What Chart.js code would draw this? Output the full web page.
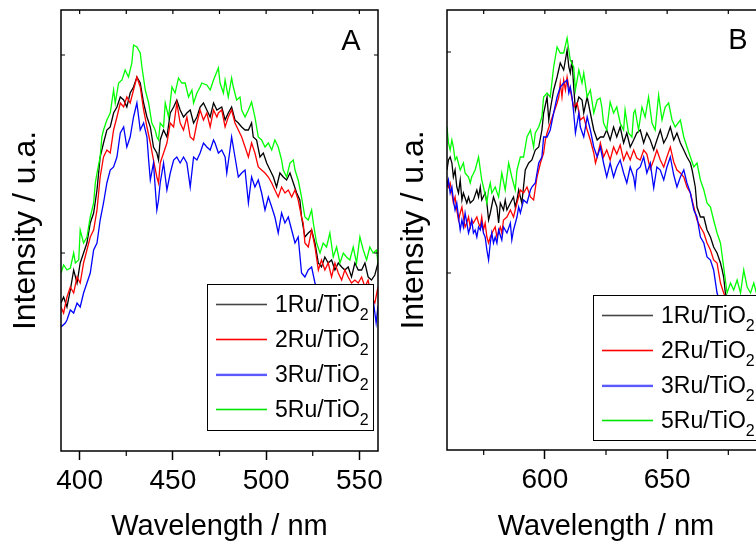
<!DOCTYPE html>
<html><head><meta charset="utf-8">
<script src="https://cdn.jsdelivr.net/npm/chart.js@4/dist/chart.umd.min.js"></script>
<style>
html,body{margin:0;padding:0;background:#fff;overflow:hidden;width:756px;height:544px;position:relative}
#wa{position:absolute;left:0;top:0;width:395px;height:544px}
#wb{position:absolute;left:390px;top:0;width:400px;height:544px}
canvas{display:block}
</style></head><body>
<div id="wa"><canvas id="ca" width="395" height="544"></canvas></div>
<div id="wb"><canvas id="cb" width="400" height="544"></canvas></div>
<script>
// ---------- DATA ----------
const seriesLabels = ['1Ru/TiO2','2Ru/TiO2','3Ru/TiO2','5Ru/TiO2'];
const xTicksA = [400,450,500,550];
const xMinorA = [425,475,525];
const xTicksB = [600,650];
const xMinorB = [575,625,675];
const yTicksA = [198,396];
const yTicksB = [177,398];

// Panel A (390-560 nm)
const wlA1 = [390,391.4,393.2,395,396.8,398.6,400.3,402.1,403.9,405.7,407.5,409.3,411,412.8,414.6,416.4,418.2,420,421.8,423.6,425.3,427.1,428.9,430.7,432.5,434.3,436.1,437.9,439.6,441.4,442.3,443.2,445,446.8,448.6,450.4,452.1,453.9,455.7,457.5,459.3,461.1,462.9,464.6,466.4,468.2,470,471.8,473.6,
476.2,478,479.7,481.5,483.3,485.1,486.9,488.7,490.5,492.2,493.1,494.9,496.7,498.5,500.3,502.1,503.9,505.6,507.4,509.2,511,512.8,514.6,516.4,518.1,519,520.8,522.6,524.4,526.2,528,529.7,531.5,533.3,535.1,536.9,538.7,540.5,542.2,544,545.8,547.6,549.4,551.2,553,554.7,556.5,558.3,560];
const intA1 = [148,154,144,161,181,168,188,198,208,228,238,261,294,308,321,324,338,344,354,351,344,358,364,374,368,348,334,324,304,298,291,311,321,314,338,344,351,341,334,338,341,328,334,344,348,341,334,348,341,
344,331,338,344,331,328,324,321,321,328,314,311,294,298,288,281,274,264,278,274,271,278,268,258,251,234,214,218,221,208,188,184,194,188,191,181,188,184,181,184,174,188,181,181,188,174,171,176,188];

const wlA2 = [390,391.4,393.2,395,396.8,398.6,400.3,402.1,403.9,405.7,407.5,409.3,411,411.9,412.8,414.6,416.4,418.2,420,421.8,423.6,425.3,427.1,428.9,430.7,432.5,434.3,436.1,437.9,439.6,441.4,442.3,443.2,445,446.8,448.6,450.4,452.1,453.9,455.7,457.5,459.3,461.1,462.9,464.6,466.4,468.2,470,471.8,473.6,
474.4,476.2,478,479.7,481.5,483.3,485.1,486.9,488.7,490.5,492.2,494,495.8,497.6,499.4,501.2,503,504.7,506.5,508.3,510.1,511.9,513.7,515.5,517.2,519,519.9,520.8,522.6,524.4,526.2,528,529.7,531.5,533.3,535.1,536.9,538.7,540.5,542.2,544,545.8,547.6,549.4,551.2,553,554.7,556.5,558.3,560];
const intA2 = [144,138,154,164,158,174,168,188,201,214,221,241,274,284,294,301,298,321,334,348,344,354,348,361,374,364,341,324,308,291,274,268,288,298,308,328,324,348,328,321,334,314,311,328,341,331,338,324,341,334,
338,341,324,334,341,328,321,314,304,294,308,298,284,281,278,274,268,261,254,264,258,261,254,261,251,234,228,208,204,221,204,181,191,181,188,174,188,178,171,181,174,168,171,168,174,164,171,154,148,164];

const wlA3 = [390,392.3,393.2,395,396.8,398.6,400.3,402.1,403.9,405.7,407.5,409.3,411,412.8,414.6,416.4,418.2,420,421.8,423.6,425.3,427.1,428.9,430.7,432.5,434.3,436.1,437,437.9,439.6,440.5,441.4,442.3,443.2,445,446.8,448.6,450.4,452.1,453.9,455.7,457.5,459.3,461.1,462.9,464.6,466.4,468.2,470,471.8,
472.6,474.4,476.2,478,478.9,480.6,481.5,483.3,485.1,486.9,488.7,490.5,492.2,494,495.8,497.6,499.4,501.2,503,504.7,506.5,508.3,510.1,511.9,513.7,515.5,517.2,519,520.8,522.6,524.4,526.2,528,530,532,534,536,538,540,542,544,546,548,550,552,554,556,557.5,559,560];
const intA3 = [124,128,131,141,138,148,144,158,168,178,201,208,231,248,268,281,284,294,318,324,304,314,334,348,321,328,314,291,271,288,264,241,251,268,288,261,278,291,294,288,294,288,264,294,291,298,308,304,301,311,
308,298,301,294,278,301,314,294,274,278,281,248,274,264,271,258,241,254,244,234,218,238,228,234,221,208,214,178,174,181,184,168,160,152,158,148,154,145,150,142,148,140,146,138,144,136,142,150,128,145];

const wlA5 = [390,391.4,393.2,395,396.8,397.7,399.5,400.3,402.1,403.9,405.7,407.5,408.4,409.3,411,411.9,412.8,414.6,416.4,418.2,419.1,420.9,422.7,424.4,426.2,428,428.9,430.7,432.5,433.4,435.2,437,438.7,440.5,441.4,442.3,443.2,445,445.9,447.7,449.5,451.2,453,454.8,456.6,458.4,460.2,461.1,462.9,464.6,465.5,468.2,470,471.8,
474.4,475.3,477.1,478,479.7,481.5,482.4,484.2,486,486.9,488.7,490.5,492.2,494,495.8,497.6,499.4,501.2,503,504.7,506.5,508.3,509.2,511,512.8,514.6,515.5,517.2,519,520.8,522.6,524.4,525.3,527.1,528.9,530.6,532.4,534.2,536,537.8,539.6,541.4,543.1,544.9,546.7,548.5,550.3,552.1,553.9,555.6,557.4,559.2,560];
const intA5 = [178,186,181,183,198,188,191,221,208,214,234,248,268,278,294,314,321,331,338,361,348,368,371,381,374,388,406,404,398,384,361,348,328,321,314,311,328,324,348,334,364,358,373,368,368,354,361,348,358,364,368,366,361,371,
383,368,358,371,354,373,364,351,354,341,334,341,349,334,314,311,304,308,301,311,304,291,281,274,288,291,281,271,254,234,231,241,228,208,198,208,204,218,194,204,188,198,194,191,204,188,214,201,191,204,198,201,188];

// Panel B (560-690 nm)
const wlB1 = [560,560.6,561.3,562,562.6,563.3,564,564.7,565.4,566.1,566.7,568.1,568.8,569.5,570.8,572.2,572.9,573.6,574.2,575.6,576.3,577,577.7,579,580.4,581.1,581.8,583.1,583.8,584.5,585.9,587.2,587.9,588.6,589.3,590.6,592,593.4,594.7,596.1,597.5,598.8,599.5,600.9,601.6,602.2,603.6,605,606.3,607.7,609.1,609.8,610.4,611.1,611.8,612.5,613.9,615.2,615.9,617.3,618.6,620,621.4,622.7,
624,625.3,626.7,628.1,629.4,630.8,632.2,633.5,634.9,636.3,637.6,639,640.4,641.7,643.1,644.5,645.8,647.2,648.6,649.9,651.3,652.7,654,655.4,656.8,658.1,659.5,660.2,661.5,662.2,663.6,665,666.3,667.7,669,670.4,671.8,672.5,673.1,673.8,676,680,685,690];
const intB1 = [280,290,293,287,273,280,263,257,270,250,257,247,253,247,250,260,253,263,250,257,247,230,237,253,243,227,247,240,250,240,247,253,243,250,260,247,280,287,290,300,303,320,337,353,330,340,360,373,387,380,400,383,377,390,363,340,353,350,337,353,337,320,310,313,
313,320,310,323,313,323,307,317,303,310,317,320,307,317,310,300,310,320,307,313,323,310,317,307,300,293,287,280,263,243,233,233,220,213,203,197,187,180,173,157,140,130,122,118];

const wlB2 = [560,560.6,561.3,562,562.6,563.3,564,564.7,565.4,566.1,566.7,567.4,568.1,568.8,569.5,570.1,570.8,572.2,572.9,573.6,574.2,574.9,575.6,576.3,577,577.7,579,579.7,580.4,581.8,582.4,583.1,584.5,585.9,587.2,588.6,590,591.3,592.7,594.1,595.4,596.8,598.2,599.5,600.2,600.9,602.2,603.6,605,605.7,606.3,607,607.7,608.4,609.1,609.8,610.4,611.8,613.2,614.5,615.9,617.3,618.6,620,620.7,621.4,622.7,
624,625.3,626.7,628.1,629.4,630.8,632.2,633.5,634.9,636.3,637.6,639,640.4,641.7,643.1,644.5,645.8,647.2,648.6,649.9,651.3,652.7,654,655.4,656.8,658.1,659.5,660.9,662.2,663.6,665,666.3,667.7,669,670.4,671.8,673.1,676,680,685,690];
const intB2 = [270,263,267,257,247,253,240,230,237,243,233,223,227,233,223,230,227,233,227,223,233,220,227,213,207,213,220,223,213,223,217,230,233,240,233,247,260,257,263,253,250,273,287,297,310,317,327,337,347,353,367,353,370,360,373,363,360,343,347,330,333,320,310,297,287,293,307,
293,300,290,303,296,305,290,298,290,300,292,290,300,296,281,290,300,290,283,293,303,288,280,277,273,263,257,243,230,223,217,207,200,190,187,167,157,142,132,125,120];

const wlB3 = [560,560.6,561.3,562,562.6,563.3,564,564.7,565.4,566.1,566.7,567.4,568.1,568.8,569.5,570.1,570.8,571.5,572.2,572.9,573.6,574.2,574.9,575.6,576.3,577,577.7,578.3,579,579.7,580.4,581.1,582.4,583.1,584.5,585.9,586.5,587.2,588.6,589.3,590,591.3,592.7,594.1,594.7,596.1,597.5,598.8,599.5,600.9,602.2,603.6,605,606.3,607.7,609.1,609.8,610.4,611.1,611.8,612.5,613.9,614.5,615.9,617.3,618.6,620,621.4,622.7,
624,625.3,626.7,628.1,629.4,630.8,632.2,633.5,634.9,636.3,636.9,637.6,639,640.4,641.7,643.1,644.5,645.8,647.2,648.6,649.9,651.3,652.7,654,655.4,656.8,658.1,659.5,660.9,662.2,663.6,665,666.3,667.7,669,670.4,672,676,682,690];
const intB3 = [263,270,257,263,250,240,247,233,220,230,223,237,227,217,223,230,217,220,213,223,220,227,217,213,200,190,207,217,207,213,207,220,210,223,217,227,210,220,233,243,237,250,247,260,263,267,287,293,313,313,320,337,353,363,367,370,357,363,353,337,317,337,323,313,333,320,303,293,303,
287,273,287,273,283,290,277,267,283,273,263,280,283,293,277,287,262,283,280,270,283,293,275,263,273,280,267,257,240,233,213,207,193,190,180,157,145,130,120,115];

const wlB5 = [560,560.6,561.3,562,562.6,563.3,564,565.4,566.7,567.4,568.8,569.5,570.1,571.5,572.9,574.2,574.9,576.3,577,577.7,578.3,579.7,581.1,582.4,583.8,585.2,586.5,587.9,588.6,590,591.3,592.7,594.1,595.4,596.1,597.5,598.8,599.5,600.9,602.2,603.6,604.3,605,606.3,607.7,609.1,610.4,611.8,612.5,613.9,615.2,615.9,617.3,618.6,620,621.4,
622.6,623.3,624,625.3,626.7,628.1,629.4,630.8,632.2,632.8,634.2,635.6,636.3,636.9,638.3,639.7,641,642.4,643.8,645.1,646.5,647.9,649.2,650.6,652,653.3,655.4,656.8,658.1,659.5,660.9,662.2,663.6,665,666.3,667.7,669,670.4,671.8,673.1,674.5,675.9,677.2,678.6,680,681.3,682.7,684.1,685.4,686.5,688,690];
const intB5 = [323,307,300,310,303,290,293,280,287,277,273,267,273,280,293,270,263,247,260,267,257,263,253,277,260,287,273,260,280,293,293,313,320,303,317,323,333,353,357,353,383,393,403,397,397,412,390,383,360,380,367,377,353,360,337,350,
352,343,327,320,348,337,343,327,320,340,317,313,337,340,320,343,333,353,327,320,355,330,343,347,330,323,330,313,303,293,283,287,270,260,247,243,230,217,207,183,157,167,160,170,157,180,163,157,167,157,165,160];

// ---------- STYLE ----------
const FONT = "'Liberation Sans', Arial, Helvetica, sans-serif";
const seriesColors = ['#000000','#ff0000','#0000ff','#00ff00'];
const legendLineColors = ['rgb(70,70,70)','rgb(255,0,0)','rgb(90,90,255)','rgb(0,230,0)'];
const legendLineHeights = [1.6, 1.6, 2.4, 1.6];

function pts(wl, v){ return wl.map((x,i)=>({x:x, y:v[i]})); }

const framePlugin = {
  id: 'frame',
  afterDatasetsDraw(chart, args, o) {
    const ctx = chart.ctx;
    const {left, right, top, bottom} = chart.chartArea;
    const xs = chart.scales.x, ys = chart.scales.y;
    ctx.save();
    ctx.strokeStyle = '#000';
    ctx.lineWidth = 1.5;
    ctx.strokeRect(left, top, right - left, bottom - top);
    ctx.lineWidth = 1.2;
    ctx.beginPath();
    o.major.concat(o.minor).forEach(v => { const p = xs.getPixelForValue(v); ctx.moveTo(p, top); ctx.lineTo(p, top + 4); });
    o.minor.forEach(v => { const p = xs.getPixelForValue(v); ctx.moveTo(p, bottom); ctx.lineTo(p, bottom + 5); });
    o.yTicks.forEach(v => { const p = ys.getPixelForValue(v); ctx.moveTo(left, p); ctx.lineTo(left + 4, p); ctx.moveTo(right, p); ctx.lineTo(right - 4, p); });
    ctx.stroke();

    // legend box
    const b = o.box;
    ctx.fillStyle = '#ffffff';
    ctx.fillRect(b.x, b.y, b.w, b.h);
    ctx.lineWidth = 1;
    ctx.strokeStyle = '#000000';
    ctx.strokeRect(b.x + 0.5, b.y + 0.5, b.w, b.h);
    const n = chart.data.datasets.length;
    for (let i = 0; i < n; i++) {
      const ds = chart.data.datasets[i];
      const ry = Math.round(b.y + 20 + i * 35);
      ctx.fillStyle = legendLineColors[i];
      ctx.fillRect(b.x + 9, ry - 0.3, 51, legendLineHeights[i]);
      const main = ds.label.slice(0, -1), sub = ds.label.slice(-1);
      ctx.fillStyle = '#000000';
      ctx.textBaseline = 'middle';
      ctx.textAlign = 'left';
      ctx.font = '23px ' + FONT;
      ctx.fillText(main, b.x + 68, ry + 1.5);
      const w = ctx.measureText(main).width;
      ctx.font = '16px ' + FONT;
      ctx.fillText(sub, b.x + 68 + w, ry + 11.5);
    }
    // panel letter
    ctx.fillStyle = '#000000';
    ctx.font = '29px ' + FONT;
    ctx.textAlign = 'center';
    ctx.textBaseline = 'middle';
    ctx.fillText(o.letter, o.letterX, o.letterY);
    ctx.restore();
  }
};

function makeChart(id, sets, cfg) {
  return new Chart(document.getElementById(id), {
    type: 'line',
    data: {
      datasets: sets.map((s, i) => ({
        label: seriesLabels[i],
        data: pts(s[0], s[1]),
        borderColor: seriesColors[i],
        borderWidth: 1.3,
        pointRadius: 0,
        fill: false,
        tension: 0,
        order: 3 - i
      }))
    },
    options: {
      responsive: false,
      devicePixelRatio: 1,
      animation: false,
      events: [],
      layout: { padding: { left: 0, top: 10, right: cfg.padRight, bottom: 0 } },
      plugins: {
        legend: { display: false },
        tooltip: { enabled: false },
        frame: cfg.frame
      },
      scales: {
        x: {
          type: 'linear',
          min: cfg.xmin, max: cfg.xmax,
          afterBuildTicks: s => { s.ticks = cfg.major.map(v => ({ value: v })); },
          afterFit: s => { s.height = cfg.xh; },
          border: { display: false },
          grid: { drawOnChartArea: false, drawTicks: true, tickLength: 9, tickWidth: 1.5, tickColor: '#000' },
          ticks: { color: '#000', font: { family: FONT, size: 28 }, padding: 4, maxRotation: 0, autoSkip: false,
                   callback: v => String(v) },
          title: { display: true, text: 'Wavelength / nm', color: '#000', font: { family: FONT, size: 29 }, padding: { top: 0, bottom: 0 } }
        },
        y: {
          min: 0, max: cfg.ymax,
          afterFit: s => { s.width = cfg.yw; },
          border: { display: false },
          grid: { display: false },
          ticks: { display: false },
          title: { display: true, text: 'Intensity / u.a.', color: '#000', font: { family: FONT, size: 32 }, padding: { top: cfg.ytitlePad, bottom: 0 } }
        }
      }
    },
    plugins: [framePlugin]
  });
}

makeChart('ca', [[wlA1,intA1],[wlA2,intA2],[wlA3,intA3],[wlA5,intA5]], {
  xmin: 390, xmax: 560, major: xTicksA, padRight: 17, xh: 93, yw: 61, ymax: 441, ytitlePad: 7,
  frame: { major: xTicksA, minor: xMinorA, yTicks: yTicksA, box: { x: 207, y: 284, w: 166, h: 146 }, letter: 'A', letterX: 351, letterY: 42 }
});
makeChart('cb', [[wlB1,intB1],[wlB2,intB2],[wlB3,intB3],[wlB5,intB5]], {
  xmin: 560, xmax: 690, major: xTicksB, padRight: 25, xh: 94, yw: 57, ymax: 440, ytitlePad: 5,
  frame: { major: xTicksB, minor: xMinorB, yTicks: yTicksB, box: { x: 203, y: 295, w: 170, h: 145 }, letter: 'B', letterX: 348, letterY: 41 }
});
</script>
</body></html>
